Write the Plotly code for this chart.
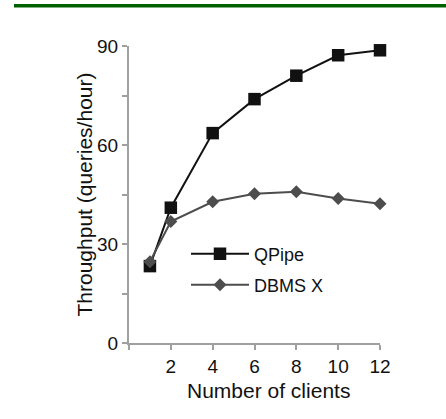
import plotly.graph_objects as go

clients = [1, 2, 4, 6, 8, 10, 12]
qpipe = [23.3, 41.0, 63.6, 73.9, 81.0, 87.2, 88.7]
dbmsx = [24.6, 36.8, 42.8, 45.2, 45.8, 43.8, 42.2]

x_ticks = [0, 2, 4, 6, 8, 10, 12]
x_labels = ["", "2", "4", "6", "8", "10", "12"]
y_ticks = [0, 15, 30, 45, 60, 75, 90]
y_labels = ["0", "", "30", "", "60", "", "90"]

FONT = "Liberation Sans, Arial, sans-serif"

PL, PT, PW, PH = 129, 46, 251, 297   # plot area in window pixels


def px(xw):
    return (xw - PL) / PW


def py(yw):
    return (PT + PH - yw) / PH


fig = go.Figure()
fig.add_trace(go.Scatter(
    x=clients, y=qpipe, name="QPipe", mode="lines+markers",
    line=dict(color="#111111", width=2),
    marker=dict(symbol="square", size=12.5, color="#111111"),
    cliponaxis=False, legend="legend"))
fig.add_trace(go.Scatter(
    x=clients, y=dbmsx, name="DBMS X", mode="lines+markers",
    line=dict(color="#4d4d4d", width=2),
    marker=dict(symbol="diamond", size=10, color="#4d4d4d"),
    cliponaxis=False, legend="legend2"))

axis_common = dict(showgrid=False, zeroline=False, showline=True,
                   linecolor="#a0a0a0", linewidth=2, ticks="outside",
                   ticklen=5, tickwidth=2, tickcolor="#a0a0a0",
                   tickfont=dict(family=FONT, size=19, color="#111111"))

fig.update_layout(
    width=446, height=419,
    margin=dict(l=PL, r=446 - PL - PW, t=PT, b=419 - PT - PH),
    paper_bgcolor="white", plot_bgcolor="white",
    showlegend=True,
    xaxis=dict(range=[0, 12], tickmode="array", tickvals=x_ticks,
               ticktext=x_labels, **axis_common),
    yaxis=dict(range=[0, 90], tickmode="array", tickvals=y_ticks,
               ticktext=y_labels, **axis_common),
    legend=dict(x=px(186), y=py(254), xanchor="left", yanchor="middle",
                bgcolor="rgba(0,0,0,0)", itemwidth=58,
                font=dict(family=FONT, size=18, color="#111111")),
    legend2=dict(x=px(186), y=py(285), xanchor="left", yanchor="middle",
                 bgcolor="rgba(0,0,0,0)", itemwidth=58,
                 font=dict(family=FONT, size=18, color="#111111")),
)

fig.add_annotation(text="Number of clients", xref="paper", yref="paper",
                   x=px(268), y=py(390),
                   xanchor="center", yanchor="middle", showarrow=False,
                   font=dict(family=FONT, size=21, color="#111111"))
fig.add_annotation(text="Throughput (queries/hour)", xref="paper",
                   yref="paper", x=px(84), y=py(194.5), textangle=-90,
                   xanchor="center", yanchor="middle", showarrow=False,
                   font=dict(family=FONT, size=21, color="#111111"))

fig.add_shape(type="line", xref="paper", yref="paper",
              x0=px(14), x1=px(446), y0=py(5.7), y1=py(5.7),
              line=dict(color="#006000", width=3.5))

fig.write_html("out.html",
               config={"displayModeBar": False},
               post_script="document.body.style.margin='0';"
                           "document.body.style.overflow='hidden';")
